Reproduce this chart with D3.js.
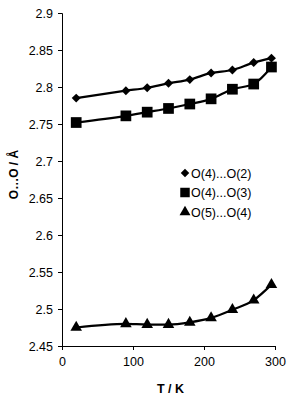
<!DOCTYPE html>
<html>
<head>
<meta charset="utf-8">
<script src="https://cdn.jsdelivr.net/npm/d3@7"></script>
<style>
  body { margin: 0; background: #fff; }
  text { font-family: "Liberation Sans", Arial, sans-serif; }
</style>
</head>
<body>
<div id="chart"></div>
<script>
// temperatures (K)
const temps = [20, 90, 120, 150, 180, 210, 240, 270, 295];

// O...O distances (Å)
const o4o2 = [2.785, 2.795, 2.799, 2.805, 2.810, 2.819, 2.823, 2.833, 2.839];
const o4o3 = [2.752, 2.761, 2.766, 2.771, 2.777, 2.784, 2.797, 2.804, 2.827];
const o5o4 = [2.475, 2.480, 2.479, 2.479, 2.482, 2.488, 2.499, 2.512, 2.533];

const seriesNames = ['O(4)...O(2)', 'O(4)...O(3)', 'O(5)...O(4)'];
const seriesValues = [o4o2, o4o3, o5o4];
const yTicks = [2.45, 2.5, 2.55, 2.6, 2.65, 2.7, 2.75, 2.8, 2.85, 2.9];
const xTicks = [0, 100, 200, 300];

const width = 289, height = 397;
const margin = { top: 13, right: 14, bottom: 51, left: 62 };

const svg = d3.select('#chart')
  .append('svg')
  .attr('width', width)
  .attr('height', height);

const x = d3.scaleLinear()
  .domain([0, 300])
  .range([margin.left, width - margin.right]);

const y = d3.scaleLinear()
  .domain([2.45, 2.9])
  .range([height - margin.bottom, margin.top]);

// axes
const yAxis = d3.axisLeft(y)
  .tickValues(yTicks)
  .tickSize(4)
  .tickPadding(5)
  .tickFormat(d3.format(''));

const xAxis = d3.axisBottom(x)
  .tickValues(xTicks)
  .tickSize(4)
  .tickPadding(7);

svg.append('g')
  .attr('class', 'axis y-axis')
  .attr('transform', `translate(${margin.left},0)`)
  .call(yAxis);

svg.append('g')
  .attr('class', 'axis x-axis')
  .attr('transform', `translate(0,${height - margin.bottom})`)
  .call(xAxis);

svg.selectAll('.axis text')
  .attr('font-size', '12.5px')
  .attr('fill', '#000');
svg.selectAll('.axis path, .axis line')
  .attr('stroke', '#000');

// axis titles
svg.append('text')
  .attr('x', (x.range()[0] + x.range()[1]) / 2 + 2)
  .attr('y', 393)
  .attr('text-anchor', 'middle')
  .attr('font-size', '12.5px')
  .attr('font-weight', 'bold')
  .text('T / K');

svg.append('text')
  .attr('transform', `translate(18,${(y.range()[0] + y.range()[1]) / 2 - 5}) rotate(-90)`)
  .attr('text-anchor', 'middle')
  .attr('font-size', '12px')
  .attr('font-weight', 'bold')
  .text('O…O / Å');

// markers: diamond is a square turned 45 degrees
const diamond = {
  draw(ctx, size) {
    const r = Math.sqrt(size / 2);
    ctx.moveTo(0, -r);
    ctx.lineTo(r, 0);
    ctx.lineTo(0, r);
    ctx.lineTo(-r, 0);
    ctx.closePath();
  }
};
const symbolTypes = [diamond, d3.symbolSquare, d3.symbolTriangle];
const markerSizes = [40, 115, 58];
const legendSizes = [36, 90, 52];

const line = d3.line()
  .x((d, i) => x(temps[i]))
  .y(d => y(d))
  .curve(d3.curveMonotoneX);

seriesValues.forEach((vals, k) => {
  svg.append('path')
    .datum(vals)
    .attr('d', line)
    .attr('fill', 'none')
    .attr('stroke', '#000')
    .attr('stroke-width', 2.2);

  svg.selectAll(`.pt-${k}`)
    .data(vals)
    .enter()
    .append('path')
    .attr('class', `pt-${k}`)
    .attr('transform', (d, i) => `translate(${x(temps[i])},${y(d)})`)
    .attr('d', d3.symbol().type(symbolTypes[k]).size(markerSizes[k]))
    .attr('fill', '#000');
});

// legend
const legend = svg.append('g')
  .attr('transform', 'translate(185,173)');

seriesNames.forEach((name, k) => {
  const g = legend.append('g')
    .attr('transform', `translate(0,${k * 19.5})`);
  g.append('path')
    .attr('d', d3.symbol().type(symbolTypes[k]).size(legendSizes[k]))
    .attr('fill', '#000');
  g.append('text')
    .attr('x', 6)
    .attr('y', 4.5)
    .attr('font-size', '12.5px')
    .text(name);
});
</script>
</body>
</html>
